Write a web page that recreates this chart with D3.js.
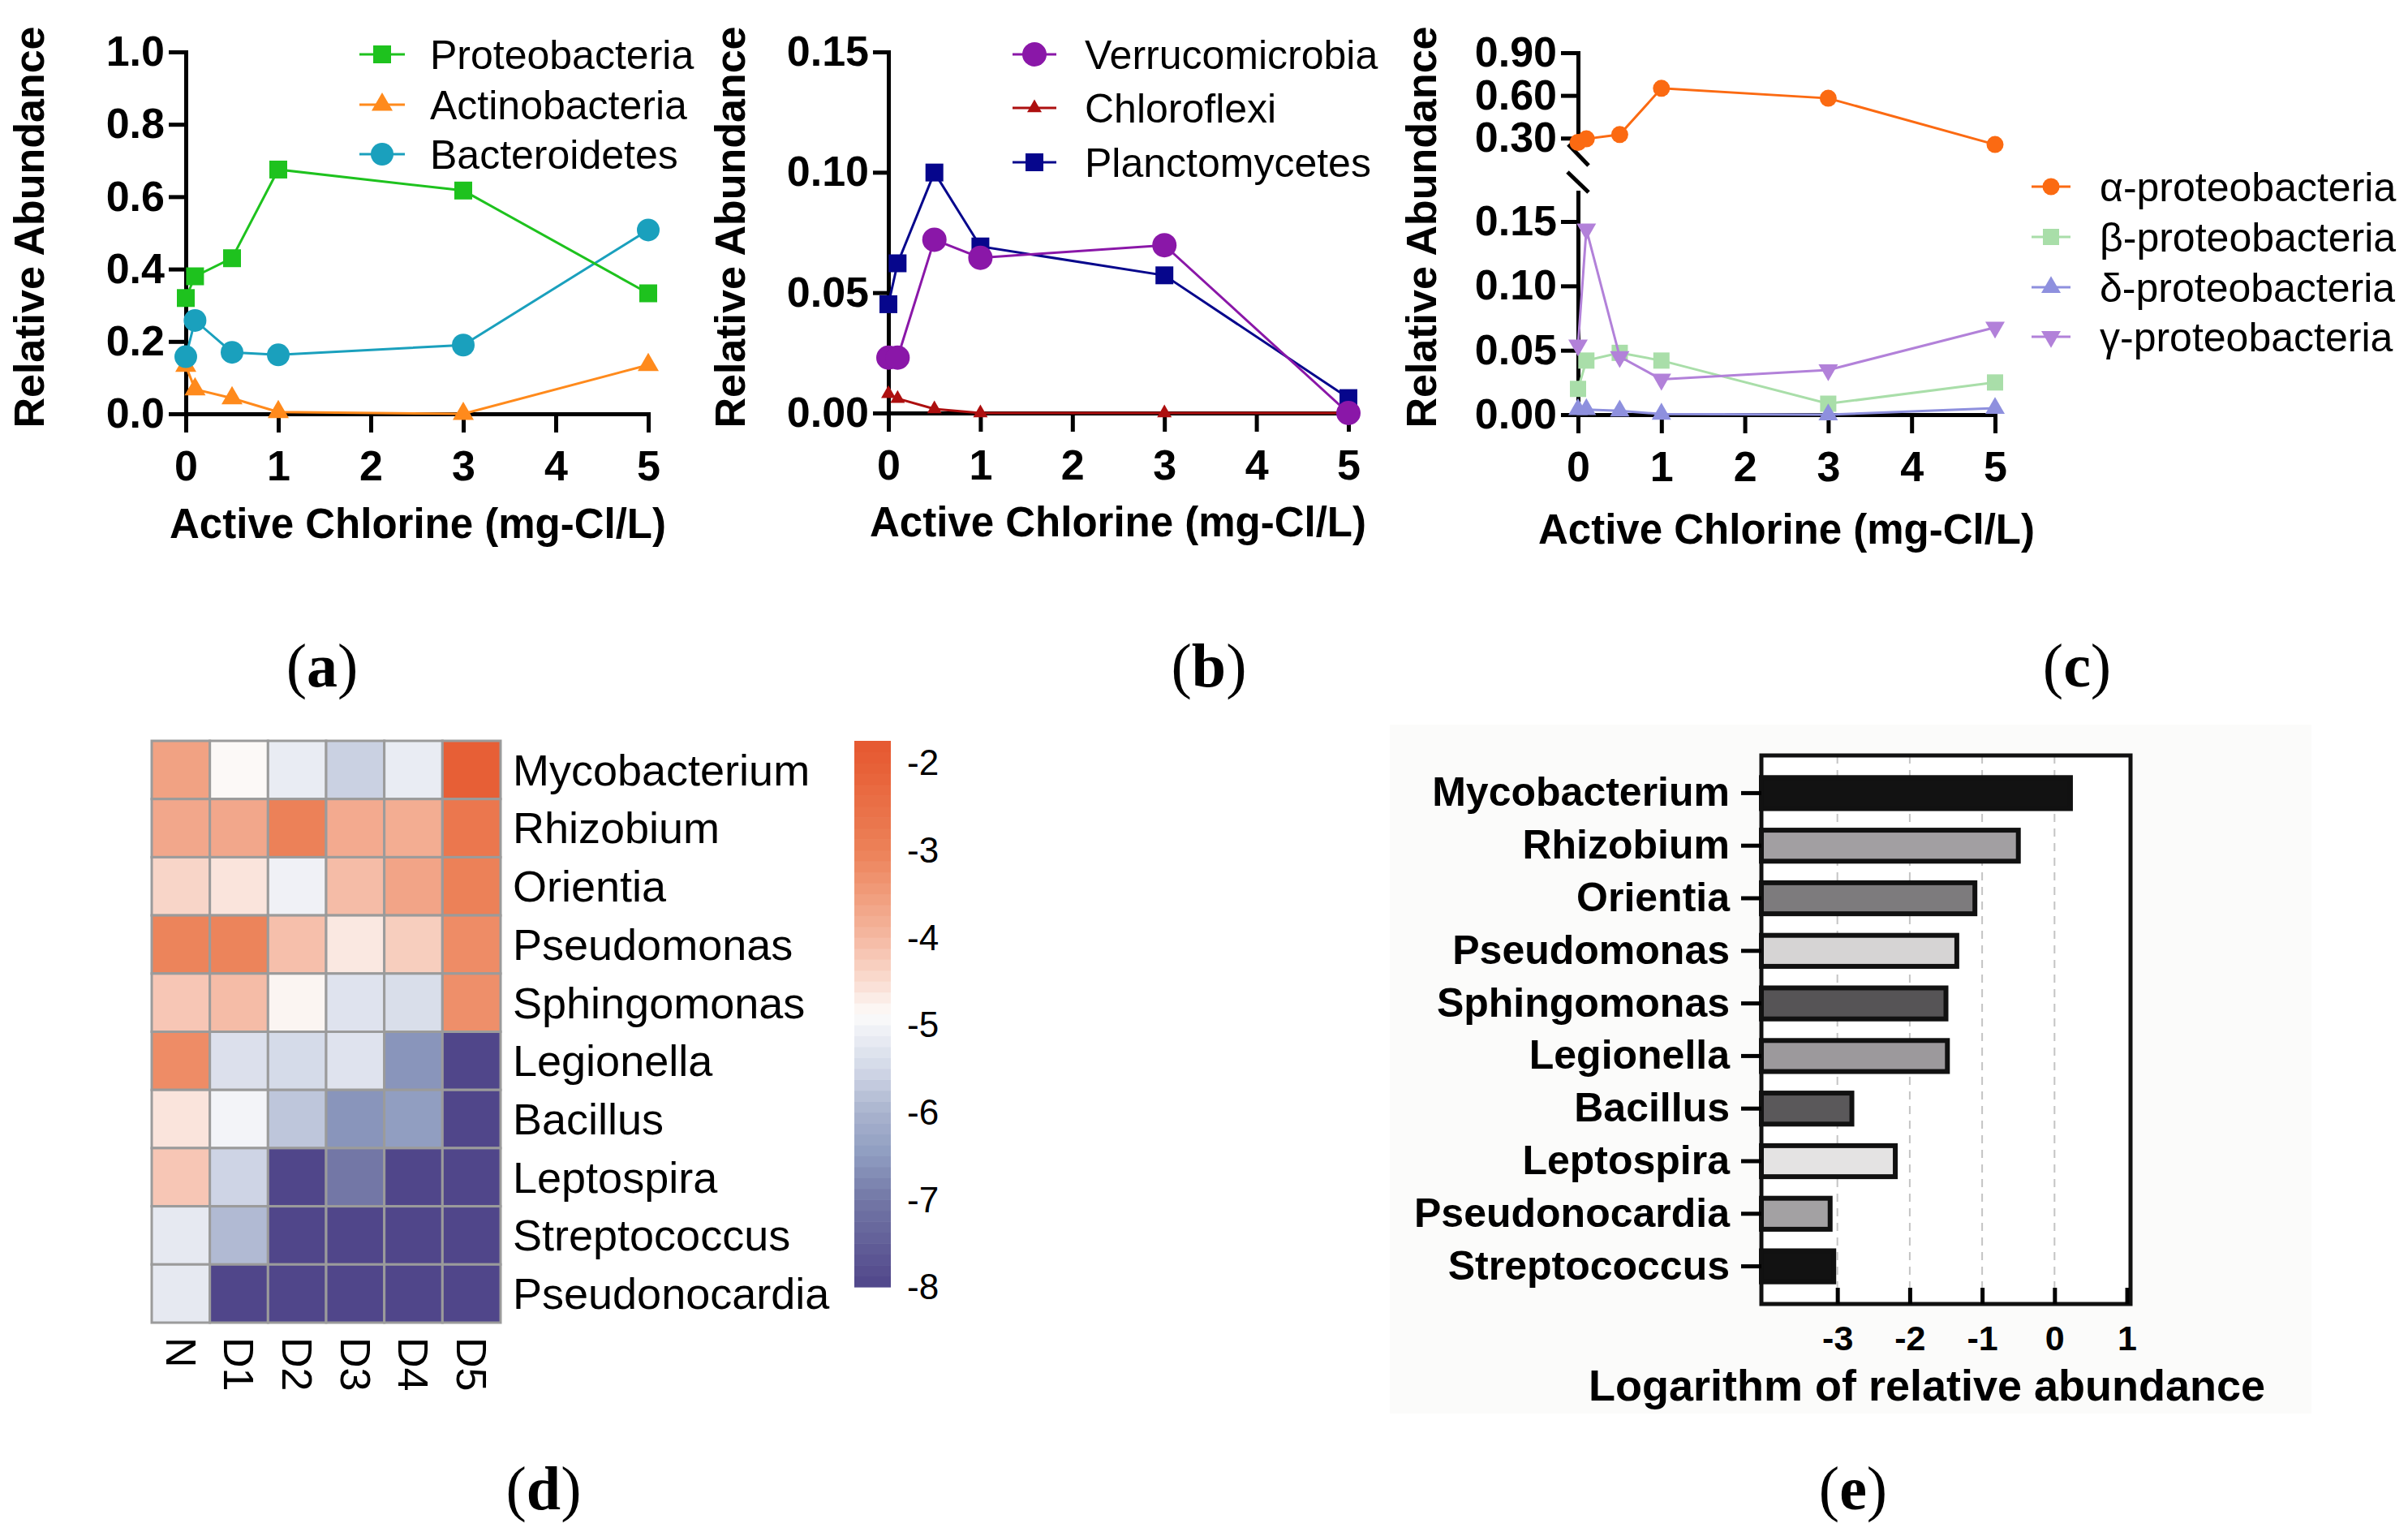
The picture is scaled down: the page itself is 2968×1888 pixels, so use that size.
<!DOCTYPE html>
<html><head><meta charset="utf-8">
<script src="https://cdn.jsdelivr.net/npm/d3@7"></script>
<style>html,body{margin:0;padding:0;background:#fff;} svg{display:block;}</style>
</head><body><svg id="fig" width="2968" height="1888"></svg>
<script>
// ---------------- DATA ----------------
const chlorine = [0, 0.1, 0.5, 1, 3, 5];
const xTicks = [0, 1, 2, 3, 4, 5];
// panel (a)
const proteobacteria = [0.32, 0.38, 0.43, 0.675, 0.617, 0.333];
const actinobacteria = [0.133, 0.068, 0.043, 0.005, 0.0, 0.135];
const bacteroidetes = [0.158, 0.258, 0.17, 0.163, 0.19, 0.508];
const yTicksA = [0, 0.2, 0.4, 0.6, 0.8, 1.0];
// panel (b)
const verrucomicrobia = [0.023, 0.023, 0.072, 0.0645, 0.0697, 0.0];
const chloroflexi = [0.008, 0.006, 0.0017, 0, 0, 0];
const planctomycetes = [0.0452, 0.0622, 0.0999, 0.0692, 0.0572, 0.0062];
const yTicksB = [0, 0.05, 0.10, 0.15];
// panel (c)
const alphaProteo = [0.27, 0.295, 0.325, 0.65, 0.58, 0.255];
const betaProteo = [0.02, 0.042, 0.048, 0.042, 0.0085, 0.025];
const deltaProteo = [0.004, 0.004, 0.003, 0.0005, 0.0, 0.005];
const gammaProteo = [0.054, 0.144, 0.045, 0.0274, 0.0347, 0.0678];
const yTicksCTop = [0.30, 0.60, 0.90];
const yTicksCBottom = [0, 0.05, 0.10, 0.15];
// panel (d)
const heatRows = ["Mycobacterium","Rhizobium","Orientia","Pseudomonas","Sphingomonas","Legionella","Bacillus","Leptospira","Streptococcus","Pseudonocardia"];
const heatCols = ["N","D1","D2","D3","D4","D5"];
const heatValues = [
  [-3.6, -4.85, -5.15, -5.6, -5.15, -2.0],
  [-3.7, -3.7, -3.0, -3.75, -3.8, -2.7],
  [-4.4, -4.6, -5.05, -4.05, -3.65, -3.0],
  [-3.05, -3.05, -4.1, -4.65, -4.3, -3.2],
  [-4.2, -4.05, -4.8, -5.3, -5.4, -3.25],
  [-3.2, -5.35, -5.45, -5.3, -6.6, -8],
  [-4.6, -5.0, -5.75, -6.6, -6.45, -8],
  [-4.2, -5.55, -8, -7.0, -8, -8],
  [-5.2, -5.9, -8, -8, -8, -8],
  [-5.2, -8, -8, -8, -8, -8]
];
const colorbarTicks = [-2, -3, -4, -5, -6, -7, -8];
// panel (e)
const barGenera = ["Mycobacterium","Rhizobium","Orientia","Pseudomonas","Sphingomonas","Legionella","Bacillus","Leptospira","Pseudonocardia","Streptococcus"];
const barValues = [0.22, -0.5, -1.1, -1.35, -1.5, -1.48, -2.8, -2.2, -3.1, -3.05];
const barTicks = [-3, -2, -1, 0, 1];
// styles
const barFills = ["#121212","#a29fa2","#7d7b7d","#d6d4d4","#565456","#9c999c","#5a585a","#e4e3e3","#a3a1a3","#121212"];

// ---------------- HELPERS ----------------
const SANS = "Liberation Sans, Arial, sans-serif";
const SERIF = "Liberation Serif, Times New Roman, serif";
const svg = d3.select("#fig");
svg.append("rect").attr("width", 2968).attr("height", 1888).attr("fill", "#fff");

function styleAxis(g, fs, weight) {
  g.attr("font-family", SANS).attr("font-size", fs);
  g.select(".domain").attr("stroke", "#000").attr("stroke-width", 5).attr("stroke-linecap", "square");
  g.selectAll(".tick line").attr("stroke", "#000").attr("stroke-width", 5);
  g.selectAll(".tick text").attr("fill", "#000").attr("font-size", fs).attr("font-weight", weight).attr("font-family", SANS);
}
function symbolPath(shape, s) {
  if (shape === "square") return d3.symbol(d3.symbolSquare, s * s)();
  if (shape === "circle") return d3.symbol(d3.symbolCircle, Math.PI * s * s / 4)();
  return d3.symbol(d3.symbolTriangle, Math.sqrt(3) / 4 * s * s)();
}
function drawSeries(g, x, y, s) {
  const pts = chlorine.map((c, i) => [c, s.vals[i]]);
  g.append("path").datum(pts)
    .attr("fill", "none").attr("stroke", s.color).attr("stroke-width", 3)
    .attr("d", d3.line().x(d => x(d[0])).y(d => y(d[1])));
  g.selectAll(null).data(pts).enter().append("path")
    .attr("d", symbolPath(s.shape, s.size))
    .attr("transform", d => `translate(${x(d[0])},${y(d[1])})` + (s.shape === "triangleDown" ? " rotate(180)" : ""))
    .attr("fill", s.color);
}
function drawLegend(g, series, lx0, lx1, tx, ys, fs) {
  series.forEach((s, i) => {
    const row = g.append("g");
    row.append("line").attr("x1", lx0).attr("x2", lx1).attr("y1", ys[i]).attr("y2", ys[i])
      .attr("stroke", s.color).attr("stroke-width", 3);
    row.append("path").attr("d", symbolPath(s.shape, s.size))
      .attr("transform", `translate(${(lx0 + lx1) / 2},${ys[i]})` + (s.shape === "triangleDown" ? " rotate(180)" : ""))
      .attr("fill", s.color);
    row.append("text").attr("x", tx).attr("y", ys[i]).attr("dy", "0.35em")
      .attr("font-family", SANS).attr("font-size", fs).attr("fill", "#000").text(s.name);
  });
}
function axisTitles(g, yx, yy, xx, xy) {
  g.append("text").attr("transform", `translate(${yx},${yy}) rotate(-90)`).attr("dy", "0.35em")
    .attr("text-anchor", "middle").attr("font-family", SANS).attr("font-weight", "bold").attr("font-size", 52)
    .text("Relative Abundance");
  g.append("text").attr("x", xx).attr("y", xy).attr("dy", "0.35em")
    .attr("text-anchor", "middle").attr("font-family", SANS).attr("font-weight", "bold").attr("font-size", 51)
    .text("Active Chlorine (mg-Cl/L)");
}
function panelLabel(x, y, letter) {
  const t = svg.append("text").attr("x", x).attr("y", y).attr("text-anchor", "middle")
    .attr("font-family", SERIF).attr("font-size", 76).attr("fill", "#000");
  t.append("tspan").text("(");
  t.append("tspan").attr("font-weight", "bold").text(letter);
  t.append("tspan").text(")");
}
const TICKFS = 52;

// ---------------- PANEL (a) ----------------
{
  const g = svg.append("g");
  const x = d3.scaleLinear().domain([0, 5]).range([229, 799]);
  const y = d3.scaleLinear().domain([0, 1]).range([510, 64]);
  const series = [
    {name: "Proteobacteria", vals: proteobacteria, color: "#1ec21e", shape: "square", size: 22},
    {name: "Actinobacteria", vals: actinobacteria, color: "#ff8a1c", shape: "triangle", size: 26},
    {name: "Bacteroidetes", vals: bacteroidetes, color: "#1aa0bd", shape: "circle", size: 28}
  ];
  const gy = g.append("g").attr("transform", `translate(${x(0)},0)`)
    .call(d3.axisLeft(y).tickValues(yTicksA).tickFormat(d3.format(".1f")).tickSize(21).tickSizeOuter(0).tickPadding(5));
  styleAxis(gy, TICKFS, "bold");
  const gx = g.append("g").attr("transform", `translate(0,${y(0)})`)
    .call(d3.axisBottom(x).tickValues(xTicks).tickFormat(d3.format("d")).tickSize(23).tickSizeOuter(0).tickPadding(22));
  styleAxis(gx, TICKFS, "bold");
  [series[1], series[2], series[0]].forEach(s => drawSeries(g, x, y, s));
  drawLegend(g, series, 443, 499, 530, [67, 129, 190], 50);
  axisTitles(g, 36, 280, 515, 645);
}

// ---------------- PANEL (b) ----------------
{
  const g = svg.append("g");
  const x = d3.scaleLinear().domain([0, 5]).range([1095, 1662]);
  const y = d3.scaleLinear().domain([0, 0.15]).range([509, 64]);
  const series = [
    {name: "Verrucomicrobia", vals: verrucomicrobia, color: "#8a17a8", shape: "circle", size: 30},
    {name: "Chloroflexi", vals: chloroflexi, color: "#ad0f0f", shape: "triangle", size: 18},
    {name: "Planctomycetes", vals: planctomycetes, color: "#06068c", shape: "square", size: 22}
  ];
  const gy = g.append("g").attr("transform", `translate(${x(0)},0)`)
    .call(d3.axisLeft(y).tickValues(yTicksB).tickFormat(d3.format(".2f")).tickSize(19).tickSizeOuter(0).tickPadding(5));
  styleAxis(gy, TICKFS, "bold");
  const gx = g.append("g").attr("transform", `translate(0,${y(0)})`)
    .call(d3.axisBottom(x).tickValues(xTicks).tickFormat(d3.format("d")).tickSize(23).tickSizeOuter(0).tickPadding(22));
  styleAxis(gx, TICKFS, "bold");
  [series[1], series[2], series[0]].forEach(s => drawSeries(g, x, y, s));
  drawLegend(g, series, 1248, 1302, 1337, [67, 133, 200], 50);
  axisTitles(g, 900, 280, 1378, 643);
}

// ---------------- PANEL (c) ----------------
{
  const g = svg.append("g");
  const x = d3.scaleLinear().domain([0, 5]).range([1945, 2459]);
  const yTop = d3.scaleLinear().domain([0.25, 0.9]).range([179, 65]);
  const yBot = d3.scaleLinear().domain([0, 0.1727]).range([511, 237]);
  const series = [
    {name: "α-proteobacteria", vals: alphaProteo, color: "#fb6a12", shape: "circle", size: 21},
    {name: "β-proteobacteria", vals: betaProteo, color: "#a9dea9", shape: "square", size: 20},
    {name: "δ-proteobacteria", vals: deltaProteo, color: "#8e90de", shape: "triangle", size: 24},
    {name: "γ-proteobacteria", vals: gammaProteo, color: "#b281d9", shape: "triangleDown", size: 24}
  ];
  const gyt = g.append("g").attr("transform", `translate(${x(0)},0)`)
    .call(d3.axisLeft(yTop).tickValues(yTicksCTop).tickFormat(d3.format(".2f")).tickSize(21).tickSizeOuter(0).tickPadding(5));
  styleAxis(gyt, TICKFS, "bold");
  const gyb = g.append("g").attr("transform", `translate(${x(0)},0)`)
    .call(d3.axisLeft(yBot).tickValues(yTicksCBottom).tickFormat(d3.format(".2f")).tickSize(21).tickSizeOuter(0).tickPadding(5));
  styleAxis(gyb, TICKFS, "bold");
  // break marks
  const ax = x(0), t0 = yTop.range()[0], b0 = yBot.range()[1];
  g.append("line").attr("x1", ax - 12).attr("y1", t0 - 1).attr("x2", ax + 13).attr("y2", t0 + 25)
    .attr("stroke", "#000").attr("stroke-width", 5);
  g.append("line").attr("x1", ax - 13).attr("y1", b0 - 25).attr("x2", ax + 13).attr("y2", b0)
    .attr("stroke", "#000").attr("stroke-width", 5);
  const gx = g.append("g").attr("transform", `translate(0,${yBot(0)})`)
    .call(d3.axisBottom(x).tickValues(xTicks).tickFormat(d3.format("d")).tickSize(23).tickSizeOuter(0).tickPadding(22));
  styleAxis(gx, TICKFS, "bold");
  drawSeries(g, x, yTop, series[0]);
  drawSeries(g, x, yBot, series[1]);
  drawSeries(g, x, yBot, series[3]);
  drawSeries(g, x, yBot, series[2]);
  drawLegend(g, series, 2504, 2552, 2588, [230, 292, 354, 415], 50);
  axisTitles(g, 1752, 280, 2202, 652);
}

// ---------------- PANEL (d) heatmap ----------------
{
  const g = svg.append("g");
  const x = d3.scaleBand().domain(heatCols).range([187, 617]);
  const y = d3.scaleBand().domain(heatRows).range([913, 1630]);
  const color = d3.scaleLinear()
    .domain([-8, -7, -6.5, -6, -5.5, -5.0, -4.875, -4.5, -4, -3.5, -3, -2, -1.75])
    .range(["#50468a", "#7377a6", "#8e9cc0", "#a9b3ce", "#d2d8e7", "#f3f4f8", "#fcfbfa", "#f9dcd1", "#f5b8a2", "#f09c7b", "#ec8158", "#e75f36", "#e65831"])
    .interpolate(d3.interpolateRgb).clamp(true);
  const cells = [];
  heatRows.forEach((r, i) => heatCols.forEach((c, j) => cells.push({r, c, v: heatValues[i][j]})));
  g.selectAll("rect.cell").data(cells).enter().append("rect").attr("class", "cell")
    .attr("x", d => x(d.c)).attr("y", d => y(d.r)).attr("width", x.bandwidth()).attr("height", y.bandwidth())
    .attr("fill", d => color(d.v)).attr("stroke", "#9b9b9b").attr("stroke-width", 3);
  g.selectAll("text.row").data(heatRows).enter().append("text").attr("class", "row")
    .attr("x", 632).attr("y", d => y(d) + y.bandwidth() / 2).attr("dy", "0.35em")
    .attr("font-family", SANS).attr("font-size", 54).text(d => d);
  g.selectAll("text.col").data(heatCols).enter().append("text").attr("class", "col")
    .attr("transform", d => `translate(${x(d) + x.bandwidth() / 2},1648) rotate(90)`).attr("dy", "0.35em")
    .attr("font-family", SANS).attr("font-size", 52).text(d => d);
  // colorbar
  const cb = d3.scaleLinear().domain([-8, -1.75]).range([1586, 913]);
  const nb = 50, step = 6.25 / nb;
  const bands = d3.range(nb).map(i => -8 + i * step);
  g.selectAll("rect.cb").data(bands).enter().append("rect").attr("class", "cb")
    .attr("x", 1053).attr("width", 45)
    .attr("y", d => cb(d + step)).attr("height", d => cb(d) - cb(d + step) + 0.6)
    .attr("fill", d => color(d + step / 2));
  g.selectAll("text.cbt").data(colorbarTicks).enter().append("text").attr("class", "cbt")
    .attr("x", 1118).attr("y", d => cb(d)).attr("dy", "0.35em")
    .attr("font-family", SANS).attr("font-size", 44).text(d => String(d));
}

// ---------------- PANEL (e) bars ----------------
{
  const g = svg.append("g");
  g.append("rect").attr("x", 1713).attr("y", 893).attr("width", 1136).attr("height", 849).attr("fill", "#fbfbfa");
  const x = d3.scaleLinear().domain([-4.05, 1.05]).range([2171, 2626]);
  const y = d3.scaleBand().domain(barGenera).range([945, 1593]).paddingInner(0.41).paddingOuter(0.205);
  const top = 931, bottom = 1607;
  g.append("rect").attr("x", x.range()[0]).attr("y", top).attr("width", x.range()[1] - x.range()[0]).attr("height", bottom - top)
    .attr("fill", "#fff");
  g.selectAll("line.grid").data(barTicks.filter(t => t < 1)).enter().append("line").attr("class", "grid")
    .attr("x1", d => x(d)).attr("x2", d => x(d)).attr("y1", top).attr("y2", bottom)
    .attr("stroke", "#c4c4c4").attr("stroke-width", 2).attr("stroke-dasharray", "10,8");
  g.selectAll("rect.bar").data(barGenera).enter().append("rect").attr("class", "bar")
    .attr("x", x(-4.05)).attr("y", (d) => y(d))
    .attr("width", (d, i) => x(barValues[i]) - x(-4.05)).attr("height", y.bandwidth())
    .attr("fill", (d, i) => barFills[i]).attr("stroke", "#111").attr("stroke-width", 6);
  g.append("rect").attr("x", x.range()[0]).attr("y", top).attr("width", x.range()[1] - x.range()[0]).attr("height", bottom - top)
    .attr("fill", "none").attr("stroke", "#111").attr("stroke-width", 5);
  const gx = g.append("g").attr("transform", `translate(0,${bottom})`)
    .call(d3.axisBottom(x).tickValues(barTicks).tickFormat(d => String(d)).tickSize(-20).tickSizeOuter(0).tickPadding(26));
  styleAxis(gx, 43, "bold");
  gx.select(".domain").remove();
  const gy = g.append("g").attr("transform", `translate(${x.range()[0]},0)`)
    .call(d3.axisLeft(y).tickSize(25).tickSizeOuter(0).tickPadding(14));
  styleAxis(gy, 50, "bold");
  gy.select(".domain").remove();
  g.append("text").attr("x", 2375).attr("y", 1707).attr("dy", "0.35em").attr("text-anchor", "middle")
    .attr("font-family", SANS).attr("font-weight", "bold").attr("font-size", 54).text("Logarithm of relative abundance");
}

// ---------------- PANEL LABELS ----------------
panelLabel(397, 846, "a");
panelLabel(1490, 846, "b");
panelLabel(2560, 846, "c");
panelLabel(670, 1860, "d");
panelLabel(2284, 1860, "e");
</script></body></html>
